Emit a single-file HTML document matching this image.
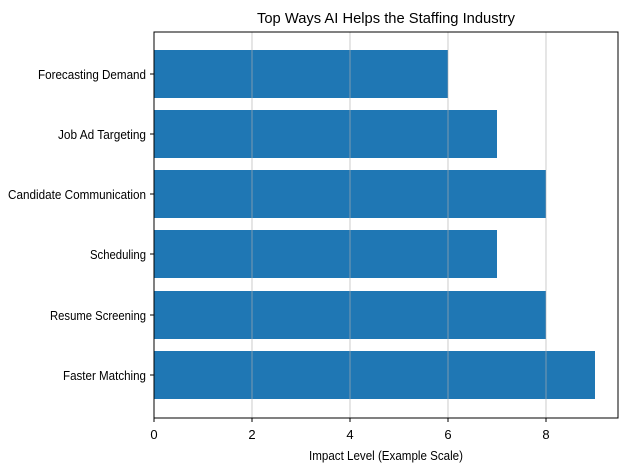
<!DOCTYPE html><html><head><style>body{margin:0;background:#fff}</style></head><body>
<svg width="625" height="471" xmlns="http://www.w3.org/2000/svg" font-family="Liberation Sans, DejaVu Sans, sans-serif" font-size="13" fill="#000">
<rect width="625" height="471" fill="#fff"/>
<g fill="#1f77b4">
<rect x="154" y="50" width="294" height="48"/>
<rect x="154" y="110" width="343" height="48"/>
<rect x="154" y="170" width="392" height="48"/>
<rect x="154" y="230" width="343" height="48"/>
<rect x="154" y="291" width="392" height="48"/>
<rect x="154" y="351" width="441" height="48"/>
</g>
<g stroke="#b0b0b0" stroke-width="0.8" opacity="0.8">
<line x1="252" y1="32" x2="252" y2="418"/><line x1="350" y1="32" x2="350" y2="418"/><line x1="448" y1="32" x2="448" y2="418"/><line x1="546" y1="32" x2="546" y2="418"/>
</g>
<rect x="154" y="32" width="464" height="386" fill="none" stroke="#000" stroke-width="1"/>
<g stroke="#000"><line x1="154" y1="418" x2="154" y2="422"/><line x1="252" y1="418" x2="252" y2="422"/><line x1="350" y1="418" x2="350" y2="422"/><line x1="448" y1="418" x2="448" y2="422"/><line x1="546" y1="418" x2="546" y2="422"/>
<line x1="150" y1="74" x2="154" y2="74"/><line x1="150" y1="134" x2="154" y2="134"/><line x1="150" y1="194" x2="154" y2="194"/><line x1="150" y1="254" x2="154" y2="254"/><line x1="150" y1="315" x2="154" y2="315"/><line x1="150" y1="375" x2="154" y2="375"/></g>
<g text-anchor="middle"><text x="154" y="439">0</text><text x="252" y="439">2</text><text x="350" y="439">4</text><text x="448" y="439">6</text><text x="546" y="439">8</text>
<text x="386" y="460" textLength="154" lengthAdjust="spacingAndGlyphs">Impact Level (Example Scale)</text>
<text x="386" y="23" font-size="15" textLength="258" lengthAdjust="spacingAndGlyphs">Top Ways AI Helps the Staffing Industry</text></g>
<g text-anchor="end">
<text x="146" y="79" textLength="108" lengthAdjust="spacingAndGlyphs">Forecasting Demand</text>
<text x="146" y="139" textLength="88" lengthAdjust="spacingAndGlyphs">Job Ad Targeting</text>
<text x="146" y="199" textLength="138" lengthAdjust="spacingAndGlyphs">Candidate Communication</text>
<text x="146" y="259" textLength="56" lengthAdjust="spacingAndGlyphs">Scheduling</text>
<text x="146" y="320" textLength="96" lengthAdjust="spacingAndGlyphs">Resume Screening</text>
<text x="146" y="380" textLength="83" lengthAdjust="spacingAndGlyphs">Faster Matching</text>
</g>
</svg>
</body></html>
